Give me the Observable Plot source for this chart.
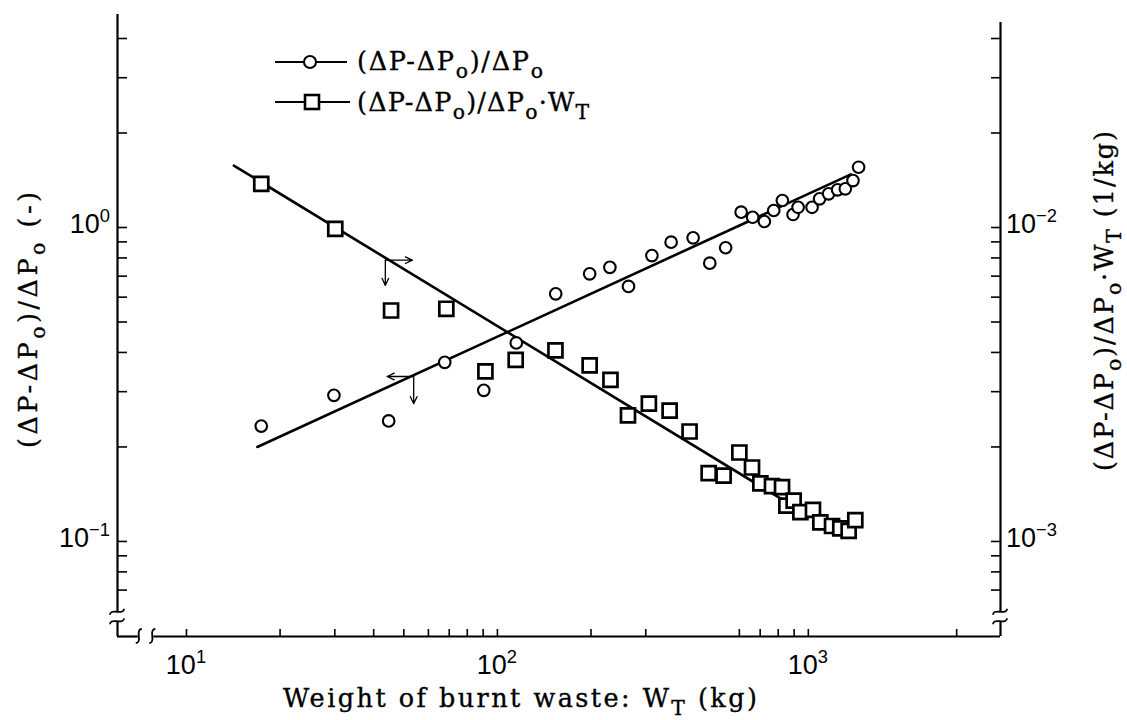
<!DOCTYPE html>
<html>
<head>
<meta charset="utf-8">
<script src="https://cdn.jsdelivr.net/npm/d3@7"></script>
<script src="https://cdn.jsdelivr.net/npm/@observablehq/plot@0.6"></script>
<style>
  body { margin: 0; background: #fff; }
  #chart svg { display: block; }
  #chart text { white-space: pre; }
</style>
</head>
<body>
<div id="chart"></div>
<script>
// Weight of burnt waste W_T (kg) and (ΔP-ΔPo)/ΔPo, read on the left axis
const ratioW   = [17.4, 29.8, 44.7, 67.7, 90.4, 115, 154, 198, 230, 264, 314, 362, 426, 482, 542,
                  608, 662, 722, 774, 825, 893, 927, 1028, 1087, 1162, 1242, 1315, 1392, 1451];
const ratioVal = [0.233, 0.292, 0.242, 0.372, 0.303, 0.429, 0.615, 0.712, 0.747, 0.649, 0.814, 0.898, 0.927, 0.770, 0.862,
                  1.119, 1.078, 1.045, 1.133, 1.219, 1.10, 1.16, 1.16, 1.234, 1.28, 1.318, 1.328, 1.411, 1.556];

// (ΔP-ΔPo)/ΔPo·W_T in 1/kg, read on the right axis
const perKgW   = [17.4, 30.1, 45.5, 68.5, 91.5, 114.5, 153.7, 198, 231, 263, 307, 358, 415, 478, 534,
                  600, 659, 701, 764, 823, 850, 897, 943, 1035, 1093, 1192, 1267, 1348, 1416];
const perKgVal = [0.01378, 0.00990, 0.00544, 0.00551, 0.00348, 0.00379, 0.00406, 0.00364, 0.00327, 0.00252,
                  0.00275, 0.00261, 0.00224, 0.00165, 0.00162, 0.00192, 0.00172, 0.00153, 0.00150, 0.00149,
                  0.00130, 0.00135, 0.00124, 0.00126, 0.00115, 0.00112, 0.00110, 0.00108, 0.00117];

// Fitted straight lines (end points)
const ratioFitW   = [16.9, 1370];
const ratioFitVal = [0.200, 1.477];
const perKgFitW   = [14.2, 1000];
const perKgFitVal = [0.01575, 0.001211];

// Arrows telling which axis each line belongs to (start W, start value, end W, end value; left-axis units)
const arrowFromW   = [43.6, 43.6, 53.8, 53.8];
const arrowFromVal = [0.787, 0.787, 0.3353, 0.3353];
const arrowToW     = [53.3, 43.6, 44.2, 53.8];
const arrowToVal   = [0.787, 0.654, 0.3353, 0.2746];

// Tick marks
const xTicks     = [10, 20, 30, 40, 50, 60, 70, 80, 90, 100, 200, 300, 600, 700, 800, 900, 1000, 3000];
const leftTicks  = [0.07, 0.08, 0.09, 0.1, 0.2, 0.3, 0.4, 0.5, 0.6, 0.7, 0.8, 0.9, 1, 2, 3, 4];
const rightTicks = [0.0007, 0.0008, 0.0009, 0.001, 0.002, 0.003, 0.004, 0.005, 0.006, 0.007, 0.008, 0.009,
                    0.01, 0.02, 0.03, 0.04];
const xLabelVals     = [10, 100, 1000];
const xLabelExp      = ["1", "2", "3"];
const leftLabelVals  = [1, 0.1];
const leftLabelExp   = ["0", "\u22121"];
const rightLabelVals = [0.01, 0.001];
const rightLabelExp  = ["\u22122", "\u22123"];

// ---- layout ----
const W = 1127, H = 720;
const mTop = 14, mRight = 127, mBottom = 84, mLeft = 117;
const plotW = W - mLeft - mRight, plotH = H - mTop - mBottom;
const xDomain = [6, 4150];
const yDomain = [0.0498, 4.77];
const rightFactor = 100;          // 10^-2 (1/kg) on the right sits level with 10^0 on the left
const rightTop = 4.5;             // right axis line stops a little lower
const xBreak = [7.0, 7.85];       // gap in the bottom axis
const yBreak = [0.0555, 0.0595];  // gap in both vertical axes

const circles = ratioW.map((w, i) => ({w, v: ratioVal[i]}));
const squares = perKgW.map((w, i) => ({w, v: perKgVal[i] * rightFactor}));
const ratioFit = ratioFitW.map((w, i) => ({w, v: ratioFitVal[i]}));
const perKgFit = perKgFitW.map((w, i) => ({w, v: perKgFitVal[i] * rightFactor}));
const arrows = arrowFromW.map((w, i) => ({x1: w, y1: arrowFromVal[i], x2: arrowToW[i], y2: arrowToVal[i]}));

const axisV = [
  {x: xDomain[0], y1: yDomain[0], y2: yBreak[0]},
  {x: xDomain[0], y1: yBreak[1], y2: yDomain[1]},
  {x: xDomain[1], y1: yDomain[0], y2: yBreak[0]},
  {x: xDomain[1], y1: yBreak[1], y2: rightTop}
];
const axisH = [
  {y: yDomain[0], x1: xDomain[0], x2: xBreak[0]},
  {y: yDomain[0], x1: xBreak[1], x2: xDomain[1]}
];

const chart = Plot.plot({
  width: W, height: H,
  marginTop: mTop, marginRight: mRight, marginBottom: mBottom, marginLeft: mLeft,
  style: {background: "#fff", color: "black"},
  x: {type: "log", domain: xDomain, axis: null},
  y: {type: "log", domain: yDomain, axis: null},
  marks: [
    Plot.ruleX(axisV, {x: "x", y1: "y1", y2: "y2", stroke: "black", strokeWidth: 2.2}),
    Plot.ruleY(axisH, {y: "y", x1: "x1", x2: "x2", stroke: "black", strokeWidth: 2.2}),
    Plot.tickY(leftTicks, {y: d => d, insetRight: plotW - 10, stroke: "black", strokeWidth: 1.6}),
    Plot.tickY(rightTicks, {y: d => d * rightFactor, insetLeft: plotW - 9, stroke: "black", strokeWidth: 1.6}),
    Plot.tickX(xTicks, {x: d => d, insetTop: plotH - 7, stroke: "black", strokeWidth: 1.6}),
    Plot.line(ratioFit, {x: "w", y: "v", stroke: "black", strokeWidth: 2.6}),
    Plot.line(perKgFit, {x: "w", y: "v", stroke: "black", strokeWidth: 2.6}),
    Plot.arrow(arrows, {x1: "x1", y1: "y1", x2: "x2", y2: "y2", stroke: "black", strokeWidth: 1.3,
                        headLength: 9, headAngle: 50}),
    Plot.dot(circles, {x: "w", y: "v", r: 5.8, fill: "white", stroke: "black", strokeWidth: 2.1}),
    Plot.dot(squares, {x: "w", y: "v", symbol: "square", r: 7.9, fill: "white", stroke: "black", strokeWidth: 2.7})
  ]
});
document.getElementById("chart").appendChild(chart);

// ---- text and axis-break glyphs ----
const sx = chart.scale("x"), sy = chart.scale("y");
const svg = d3.select(chart);
const g = svg.append("g");
const TYPE = "'DejaVu Serif', 'Liberation Serif', serif";
const SANS = "'Liberation Sans', Arial, sans-serif";

function richText(x, y, parts, o) {
  const t = g.append("text")
    .attr("x", x).attr("y", y)
    .attr("font-family", o.family).attr("font-size", o.size)
    .attr("text-anchor", o.anchor || "start").attr("fill", "black");
  if (o.rotate) t.attr("transform", `rotate(${o.rotate},${x},${y})`);
  if (o.length) t.attr("textLength", o.length).attr("lengthAdjust", "spacing");
  if (o.heavy) t.attr("stroke", "black").attr("stroke-width", o.heavy);
  let shift = 0;
  for (const [s, kind] of parts) {
    const target = kind === "sub" ? o.size * 0.3 : kind === "sup" ? -o.size * 0.4 : 0;
    const span = t.append("tspan").attr("dy", target - shift).text(s);
    if (kind) span.attr("font-size", o.size * (kind === "sup" ? 0.68 : 0.8));
    shift = target;
  }
  return t;
}

// tick labels
const yBottom = sy.apply(yDomain[0]);
xLabelVals.forEach((v, i) =>
  richText(sx.apply(v), yBottom + 38, [["10"], [xLabelExp[i], "sup"]], {family: SANS, size: 27, anchor: "middle"}));
leftLabelVals.forEach((v, i) =>
  richText(mLeft - 7, sy.apply(v) + 6, [["10"], [leftLabelExp[i], "sup"]], {family: SANS, size: 27, anchor: "end"}));
rightLabelVals.forEach((v, i) =>
  richText(W - mRight + 6, sy.apply(v * rightFactor) + 6, [["10"], [rightLabelExp[i], "sup"]], {family: SANS, size: 27}));

// axis titles (typewriter-like serif, spaced out to the typed width)
const titleSize = 25.5, weight = 0.35;
richText(520, 707, [["Weight of burnt waste: W"], ["T", "sub"], [" (kg)"]],
  {family: TYPE, size: titleSize, anchor: "middle", length: 474, heavy: weight});
richText(37, 320, [["(\u0394P-\u0394P"], ["o", "sub"], [")/\u0394P"], ["o", "sub"], [" (-)"]],
  {family: TYPE, size: titleSize, anchor: "middle", rotate: -90, length: 256, heavy: weight});
richText(1113, 301, [["(\u0394P-\u0394P"], ["o", "sub"], [")/\u0394P"], ["o", "sub"], ["\u00B7W"], ["T", "sub"], [" (1/kg)"]],
  {family: TYPE, size: titleSize, anchor: "middle", rotate: -90, length: 340, heavy: weight});

// legend
const lg = g.append("g").attr("stroke", "black").attr("fill", "white");
lg.append("line").attr("x1", 275).attr("x2", 347).attr("y1", 62).attr("y2", 62).attr("stroke-width", 2.2);
lg.append("circle").attr("cx", 310).attr("cy", 62).attr("r", 6).attr("stroke-width", 2.1);
lg.append("line").attr("x1", 275).attr("x2", 350).attr("y1", 102).attr("y2", 102).attr("stroke-width", 2.2);
lg.append("rect").attr("x", 305).attr("y", 95).attr("width", 14).attr("height", 14).attr("stroke-width", 2.6);
richText(357, 70, [["(\u0394P-\u0394P"], ["o", "sub"], [")/\u0394P"], ["o", "sub"]],
  {family: TYPE, size: titleSize, length: 186, heavy: weight});
richText(357, 111, [["(\u0394P-\u0394P"], ["o", "sub"], [")/\u0394P"], ["o", "sub"], ["\u00B7W"], ["T", "sub"]],
  {family: TYPE, size: titleSize, length: 232, heavy: weight});

// axis-break glyphs
const bg = g.append("g").attr("fill", "none").attr("stroke", "black").attr("stroke-width", 1.8);
const vS = (cx, cy) => `M${cx + 3},${cy - 7} Q${cx - 1},${cy - 7} ${cx},${cy} Q${cx + 1},${cy + 7} ${cx - 3},${cy + 7}`;
const hS = (cx, cy) => `M${cx - 7},${cy + 3} Q${cx - 7},${cy - 1} ${cx},${cy} Q${cx + 7},${cy + 1} ${cx + 7},${cy - 3}`;
bg.append("path").attr("d", vS(sx.apply(xBreak[0]) + 1, yBottom));
bg.append("path").attr("d", vS(sx.apply(xBreak[1]) - 1, yBottom));
for (const xv of [xDomain[0], xDomain[1]]) {
  bg.append("path").attr("d", hS(sx.apply(xv), sy.apply(yBreak[0])));
  bg.append("path").attr("d", hS(sx.apply(xv), sy.apply(yBreak[1])));
}
</script>
</body>
</html>
